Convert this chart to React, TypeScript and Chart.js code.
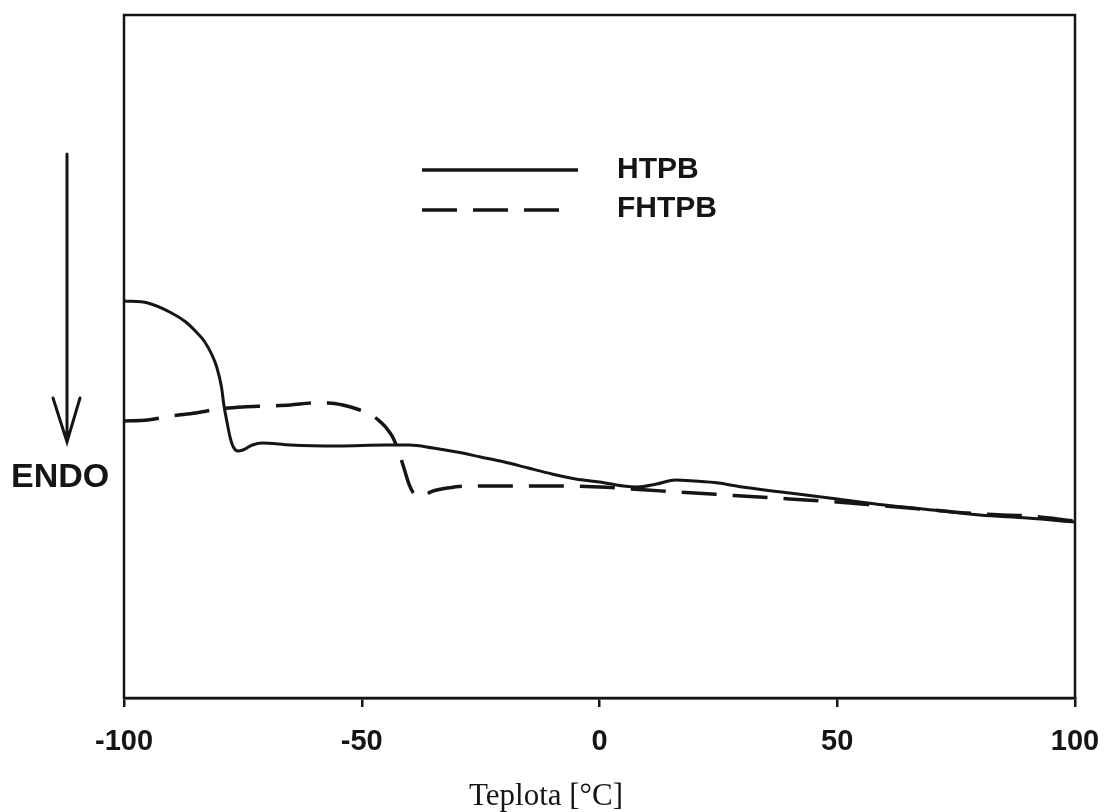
import React, { useEffect, useRef } from "react";
import { Chart, registerables } from "chart.js";

Chart.register(...registerables);

// Temperature [°C] and DSC signal (arbitrary units, endo down)
const htpbT = [-100, -95, -90, -87, -85, -83, -81.5, -80.5, -79.5, -79, -78.3, -77.7, -77, -76, -75, -73, -71, -65, -55, -45, -40, -35, -30, -25, -20, -15, -10, -5, 0, 5, 8, 12, 16, 20, 25, 30, 40, 50, 60, 70, 80, 90, 100];
const htpbY = [58.13, 57.83, 56.37, 55.05, 53.73, 52.12, 50.22, 48.46, 45.53, 42.9, 40.26, 38.21, 36.75, 36.16, 36.31, 37.04, 37.34, 37.04, 36.9, 37.04, 37.04, 36.6, 36.02, 35.29, 34.55, 33.67, 32.8, 32.06, 31.63, 31.04, 30.89, 31.33, 31.92, 31.77, 31.48, 30.89, 30.01, 29.14, 28.26, 27.53, 26.79, 26.35, 25.77];

const fhtpbT = [-100, -95, -90, -85, -80, -75, -70, -65, -60, -57, -54, -51, -48.5, -46.5, -45, -43.5, -42, -41, -40, -39, -38, -36.5, -35, -32, -28, -20, -10, 0, 10, 20, 30, 40, 50, 60, 70, 80, 90, 100];
const fhtpbY = [40.56, 40.7, 41.29, 41.73, 42.31, 42.61, 42.75, 42.9, 43.19, 43.19, 42.9, 42.31, 41.58, 40.7, 39.68, 38.21, 35.58, 33.38, 31.19, 29.87, 29.58, 29.87, 30.31, 30.75, 31.04, 31.04, 31.04, 30.89, 30.45, 30.01, 29.58, 29.14, 28.7, 28.11, 27.53, 26.94, 26.65, 25.92];

const seriesNames = ["HTPB", "FHTPB"];
const xTicks = [-100, -50, 0, 50, 100];
const xTitle = "Teplota [°C]";
const sideLabel = "ENDO";

const INK = "#151515";

const decorPlugin = {
  id: "decor",
  afterDraw(chart: any) {
    const ctx = chart.ctx as CanvasRenderingContext2D;
    const a = chart.chartArea;
    ctx.save();
    // frame
    ctx.strokeStyle = INK;
    ctx.lineWidth = 2.5;
    ctx.strokeRect(a.left, a.top, a.right - a.left, a.bottom - a.top);

    // arrow
    ctx.lineWidth = 3;
    ctx.lineCap = "round";
    ctx.beginPath();
    ctx.moveTo(67, 154);
    ctx.lineTo(67, 441);
    ctx.moveTo(53, 398);
    ctx.lineTo(67, 442);
    ctx.lineTo(80, 398);
    ctx.stroke();

    // ENDO
    ctx.fillStyle = INK;
    ctx.font = "bold 34px 'Liberation Sans', Arial, sans-serif";
    ctx.textAlign = "left";
    ctx.textBaseline = "middle";
    ctx.fillText(sideLabel, 11, 478);

    // legend
    ctx.lineWidth = 3.5;
    ctx.lineCap = "butt";
    ctx.beginPath();
    ctx.moveTo(422, 170);
    ctx.lineTo(578, 170);
    ctx.stroke();
    ctx.setLineDash([35, 16]);
    ctx.beginPath();
    ctx.moveTo(422, 210);
    ctx.lineTo(560, 210);
    ctx.stroke();
    ctx.setLineDash([]);
    ctx.font = "bold 30px 'Liberation Sans', Arial, sans-serif";
    ctx.fillText(seriesNames[0], 617, 170);
    ctx.fillText(seriesNames[1], 617, 209);

    // x title
    ctx.font = "31px 'Liberation Serif', 'Times New Roman', serif";
    ctx.textAlign = "center";
    ctx.fillText(xTitle, 546, 797);
    ctx.restore();
  },
};

export default function App() {
  const ref = useRef<HTMLCanvasElement | null>(null);
  useEffect(() => {
    if (!ref.current) return;
    const chart = new Chart(ref.current, {
      type: "line",
      data: {
        datasets: [
          {
            label: seriesNames[0],
            data: htpbT.map((t, i) => ({ x: t, y: htpbY[i] })),
            borderColor: INK,
            borderWidth: 3,
            pointRadius: 0,
            cubicInterpolationMode: "monotone",
            fill: false,
          },
          {
            label: seriesNames[1],
            data: fhtpbT.map((t, i) => ({ x: t, y: fhtpbY[i] })),
            borderColor: INK,
            borderWidth: 3.5,
            borderDash: [35, 16],
            pointRadius: 0,
            cubicInterpolationMode: "monotone",
            fill: false,
          },
        ],
      },
      options: {
        responsive: false,
        animation: false,
        events: [],
        layout: { padding: { left: 124, top: 15, right: 31, bottom: 0 } },
        plugins: { legend: { display: false }, tooltip: { enabled: false } },
        scales: {
          x: {
            type: "linear",
            min: -100,
            max: 100,
            afterBuildTicks: (s: any) => {
              s.ticks = xTicks.map((v) => ({ value: v }));
            },
            afterFit: (s: any) => {
              s.height = 114;
              s.paddingLeft = 0;
              s.paddingRight = 0;
            },
            grid: {
              drawOnChartArea: false,
              drawTicks: true,
              tickLength: 9,
              color: INK,
              lineWidth: 2.5,
            },
            border: { display: true, color: INK, width: 2.5 },
            ticks: {
              autoSkip: false,
              maxRotation: 0,
              padding: 18,
              color: INK,
              font: { family: "'Liberation Sans', Arial, sans-serif", size: 29, weight: "bold" },
            },
          },
          y: {
            display: false,
            min: 0,
            max: 100,
          },
        },
      },
      plugins: [decorPlugin],
    });
    return () => chart.destroy();
  }, []);
  return (
    <div style={{ position: "fixed", left: 0, top: 0, width: 1106, height: 812, background: "#fff" }}>
      <canvas ref={ref} width={1106} height={812} style={{ display: "block" }} />
    </div>
  );
}
